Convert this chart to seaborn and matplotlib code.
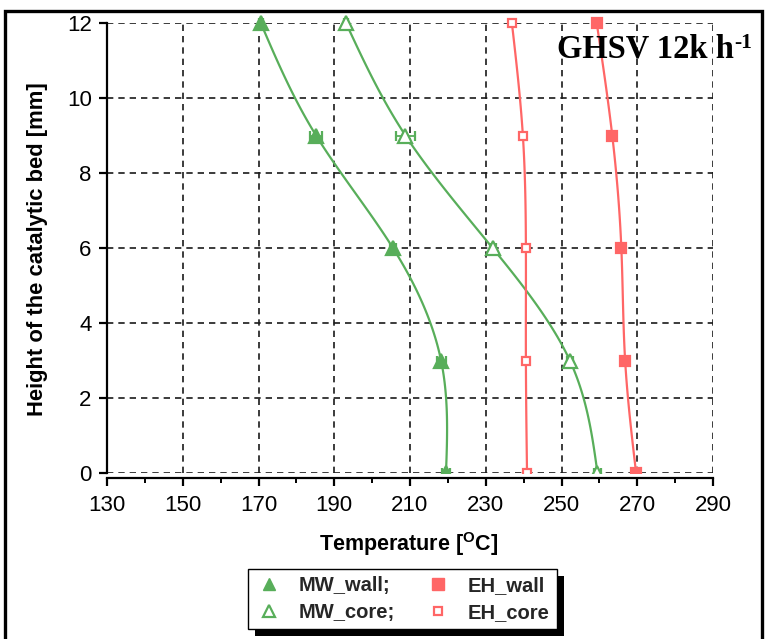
import numpy as np
import pandas as pd
import matplotlib
matplotlib.use("Agg")
import matplotlib.pyplot as plt
from matplotlib.patches import Rectangle
from matplotlib.lines import Line2D
from matplotlib.transforms import Bbox, TransformedBbox
import seaborn as sns

# ---------------- data ----------------
heights = [0, 3, 6, 9, 12]
mw_wall = [219.5, 218.2, 205.5, 185.2, 170.6]
mw_core = [259.5, 252.2, 231.8, 208.8, 193.1]
eh_wall = [269.7, 266.8, 265.8, 263.4, 259.3]
eh_core = [240.9, 240.6, 240.6, 239.8, 236.9]
mw_wall_err = [1.0, 1.2, 0.8, 1.6, 0.6]
mw_core_err = [0.8, 0.8, 0.8, 2.4, 0.6]
eh_wall_err = [0.6, 0.5, 0.5, 0.5, 0.5]
eh_core_err = [0.5, 0.5, 0.5, 0.5, 0.5]
series_names = ["MW_wall;", "MW_core;", "EH_wall", "EH_core"]
x_ticks = [130, 150, 170, 190, 210, 230, 250, 270, 290]
y_ticks = [0, 2, 4, 6, 8, 10, 12]

GREEN = "#58AE5A"
RED = "#FF6666"


def natural_spline(t, v, n=120):
    t = np.asarray(t, float)
    v = np.asarray(v, float)
    N = len(t)
    h = np.diff(t)
    A = np.zeros((N, N))
    b = np.zeros(N)
    A[0, 0] = 1
    A[-1, -1] = 1
    for i in range(1, N - 1):
        A[i, i - 1] = h[i - 1]
        A[i, i] = 2 * (h[i - 1] + h[i])
        A[i, i + 1] = h[i]
        b[i] = 6 * ((v[i + 1] - v[i]) / h[i] - (v[i] - v[i - 1]) / h[i - 1])
    M = np.linalg.solve(A, b)
    tt = np.linspace(t[0], t[-1], n)
    idx = np.clip(np.searchsorted(t, tt) - 1, 0, N - 2)
    t0, t1 = t[idx], t[idx + 1]
    hh = t1 - t0
    a = (t1 - tt) / hh
    bb = (tt - t0) / hh
    vv = a * v[idx] + bb * v[idx + 1] + ((a ** 3 - a) * M[idx] + (bb ** 3 - bb) * M[idx + 1]) * hh ** 2 / 6
    return tt, vv


sns.set_theme(style="ticks")
plt.rcParams["font.family"] = ["Liberation Sans", "DejaVu Sans"]
plt.rcParams["mathtext.fontset"] = "custom"
plt.rcParams["mathtext.rm"] = "Liberation Sans"
plt.rcParams["mathtext.bf"] = "Liberation Sans:bold"

fig = plt.figure(figsize=(7.65, 6.39), dpi=100)
fig.patch.set_facecolor("white")
ax = fig.add_axes([107 / 765, 1 - 473 / 639, 606 / 765, 450 / 639])

ax.set_xlim(130, 290)
ax.set_ylim(0, 12)
ax.set_xticks(x_ticks)
ax.set_xticks([t + 10 for t in x_ticks[:-1]], minor=True)
ax.set_yticks(y_ticks)

ax.grid(True, which="major", color="#1a1a1a", linestyle=(0, (3.8, 3.0)), linewidth=1.2, zorder=0)
ax.set_axisbelow(True)

clipbox = TransformedBbox(Bbox([[0, 0], [1, 1.06]]), ax.transAxes)

specs = [
    (mw_wall, mw_wall_err, GREEN, "^", True, 9.5),
    (mw_core, mw_core_err, GREEN, "^", False, 9.5),
    (eh_wall, eh_wall_err, RED, "s", True, 7),
    (eh_core, eh_core_err, RED, "s", False, 6),
]

for (vals, errs, col, mk, filled, ms), name in zip(specs, series_names):
    yy, xx = natural_spline(heights, vals)
    curve = pd.DataFrame({"T": xx, "h": yy})
    sns.lineplot(data=curve, x="T", y="h", sort=False, estimator=None, color=col,
                 linewidth=1.6, ax=ax, zorder=3)
    cont = ax.errorbar(vals, heights, xerr=errs, fmt=mk, color=col, ms=ms,
                       mfc=col if filled else "white", mec=col, mew=1.6,
                       ecolor=col, elinewidth=1.3, capsize=3.5, capthick=1.3,
                       linestyle="none", zorder=4)
    for art in [cont[0], *cont[1], *cont[2]]:
        art.set_clip_box(clipbox)

for s in ["top", "right"]:
    ax.spines[s].set_visible(False)
for s in ["left", "bottom"]:
    ax.spines[s].set_linewidth(1.6)
    ax.spines[s].set_color("black")
ax.spines["bottom"].set_position(("outward", 3.6))

ax.tick_params(axis="both", which="major", direction="out", length=6, width=1.6,
               labelsize=16, colors="black", bottom=True, left=True)
ax.tick_params(axis="x", which="major", pad=6)
ax.tick_params(axis="y", which="major", pad=5)
ax.tick_params(axis="x", which="minor", direction="out", length=3.5, width=1.4,
               bottom=True, colors="black")

ax.set_xlabel(r"Temperature [$^{\mathbf{O}}$C]", fontsize=15.5, fontweight="bold", color="black")
ax.set_ylabel("Height of the catalytic bed [mm]", fontsize=15.8, fontweight="bold", color="black")
ax.xaxis.set_label_coords(0.498, -0.126)
ax.yaxis.set_label_coords(-0.114, 0.498)
ax.yaxis.label.set_va("center")

t = ax.text(0.7426, 0.924, "GHSV 12k h", transform=ax.transAxes,
            fontfamily="Liberation Serif", fontweight="bold", fontsize=23.5,
            ha="left", va="baseline", clip_on=False, color="black")
ax.annotate("-1", xy=(1, 1), xycoords=t, xytext=(0.5, 0), textcoords="offset points",
            fontfamily="Liberation Serif", fontweight="bold", fontsize=15.5,
            ha="left", va="top", color="black", annotation_clip=False)

handles = [
    Line2D([], [], marker="^", linestyle="none", color=GREEN, mfc=GREEN, mec=GREEN, ms=9),
    Line2D([], [], marker="^", linestyle="none", color=GREEN, mfc="white", mec=GREEN, mew=1.6, ms=8),
    Line2D([], [], marker="s", linestyle="none", color=RED, mfc=RED, mec=RED, ms=8),
    Line2D([], [], marker="s", linestyle="none", color=RED, mfc="white", mec=RED, mew=1.6, ms=6),
]
leg = ax.legend(handles, series_names, ncol=2, loc="center",
                bbox_to_anchor=(0.487, -0.28), bbox_transform=ax.transAxes,
                prop={"family": "Liberation Sans", "weight": "bold", "size": 14.5},
                frameon=True, fancybox=False, edgecolor="black", framealpha=1,
                handlelength=1.4, handletextpad=0.8, columnspacing=1.4,
                labelspacing=0.38, borderpad=0.35)
leg.get_frame().set_linewidth(1.0)

# figure frame
fig.add_artist(Rectangle((5 / 765, -0.05), 757 / 765, (1 - 11 / 639) + 0.05,
                         transform=fig.transFigure, fill=False, edgecolor="black",
                         linewidth=2.4, zorder=10))

fig.canvas.draw()
bb = leg.get_window_extent().transformed(fig.transFigure.inverted())
dx, dy = 7 / 765, 7 / 639
fig.add_artist(Rectangle((bb.x0 + dx, bb.y0 - dy), bb.width, bb.height,
                         transform=fig.transFigure, facecolor="black",
                         edgecolor="none", zorder=-1))

fig.savefig("out.png", dpi=100)
